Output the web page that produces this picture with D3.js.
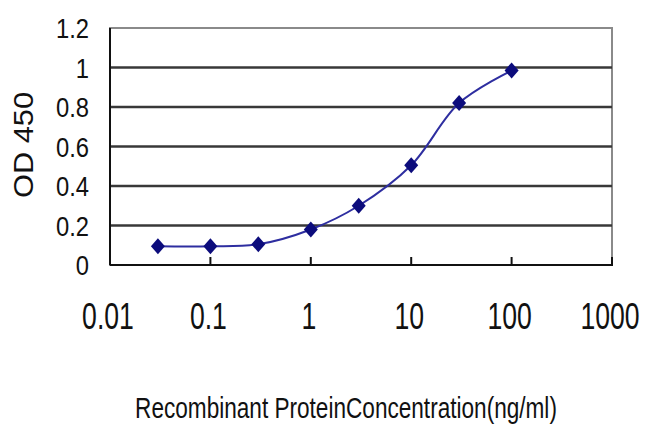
<!DOCTYPE html>
<html lang="en">
<head>
    <meta charset="UTF-8">
    <title>OD 450 vs Recombinant Protein Concentration</title>
    <script src="https://d3js.org/d3.v7.min.js"></script>
    <style>
        body, html {
            margin: 0;
            padding: 0;
            background: #fff;
            overflow: hidden;
        }
        text {
            font-family: "Liberation Sans", Arial, sans-serif;
            fill: #111;
        }
    </style>
</head>
<body>
    <svg id="chart" width="650" height="433"></svg>
    <script>
        // data
        const concentration = [0.03, 0.1, 0.3, 1, 3, 10, 30, 100];
        const od450 = [0.095, 0.095, 0.105, 0.18, 0.30, 0.505, 0.82, 0.985];
        const xTicks = [0.01, 0.1, 1, 10, 100, 1000];
        const xTickLabels = ["0.01", "0.1", "1", "10", "100", "1000"];
        const yTicks = [0, 0.2, 0.4, 0.6, 0.8, 1, 1.2];
        const yTickLabels = ["0", "0.2", "0.4", "0.6", "0.8", "1", "1.2"];

        const svg = d3.select("#chart");
        const plotLeft = 110, plotRight = 612, plotTop = 28, plotBottom = 265;

        const x = d3.scaleLog().domain([0.01, 1000]).range([plotLeft, plotRight]);
        const y = d3.scaleLinear().domain([0, 1.2]).range([plotBottom, plotTop]);

        // frame (top / right in grey)
        svg.append("rect")
            .attr("x", plotLeft).attr("y", plotTop)
            .attr("width", plotRight - plotLeft).attr("height", plotBottom - plotTop)
            .attr("fill", "#fff")
            .attr("stroke", "#8a8a8a")
            .attr("stroke-width", 2);

        // horizontal gridlines
        svg.append("g")
            .selectAll("line")
            .data(yTicks.filter(d => d > 0 && d < 1.2))
            .join("line")
            .attr("x1", plotLeft).attr("x2", plotRight)
            .attr("y1", d => y(d)).attr("y2", d => y(d))
            .attr("stroke", "#383838")
            .attr("stroke-width", 2.5);

        // axis lines
        svg.append("line")
            .attr("x1", plotLeft).attr("x2", plotLeft)
            .attr("y1", plotTop).attr("y2", plotBottom)
            .attr("stroke", "#111").attr("stroke-width", 2);
        svg.append("line")
            .attr("x1", plotLeft).attr("x2", plotRight + 1)
            .attr("y1", plotBottom).attr("y2", plotBottom)
            .attr("stroke", "#111").attr("stroke-width", 2);

        // x ticks pointing inside
        svg.append("g")
            .selectAll("line")
            .data(xTicks)
            .join("line")
            .attr("x1", d => x(d)).attr("x2", d => x(d))
            .attr("y1", plotBottom - 8).attr("y2", plotBottom)
            .attr("stroke", "#111").attr("stroke-width", 2);

        // y tick labels (narrow, tall)
        svg.append("g")
            .selectAll("text")
            .data(yTicks)
            .join("text")
            .attr("transform", d => `translate(89,${y(d) + 10}) scale(0.85,1)`)
            .attr("text-anchor", "end")
            .style("font-size", "28px")
            .text((d, i) => yTickLabels[i]);

        // x tick labels
        svg.append("g")
            .selectAll("text")
            .data(xTicks)
            .join("text")
            .attr("transform", d => `translate(${x(d) - 2},329) scale(0.72,1)`)
            .attr("text-anchor", "middle")
            .style("font-size", "37px")
            .text((d, i) => xTickLabels[i]);

        // axis titles
        svg.append("text")
            .attr("transform", "translate(33,145) rotate(-90)")
            .attr("text-anchor", "middle")
            .attr("textLength", 106)
            .attr("lengthAdjust", "spacingAndGlyphs")
            .style("font-size", "28px")
            .text("OD 450");

        // x title squeezed to the width seen in the picture
        const xTitle = svg.append("text")
            .attr("text-anchor", "middle")
            .style("font-size", "29px")
            .text("Recombinant ProteinConcentration(ng/ml)");
        const natural = xTitle.node().getComputedTextLength();
        xTitle.attr("transform", `translate(346,418) scale(${422 / natural},1)`);

        // smoothed series line
        const pts = concentration.map((c, i) => [x(c), y(od450[i])]);
        svg.append("path")
            .attr("d", d3.line().curve(d3.curveCatmullRom.alpha(0.5))(pts))
            .attr("fill", "none")
            .attr("stroke", "#2e2ea0")
            .attr("stroke-width", 2);

        // diamond markers
        svg.append("g")
            .selectAll("path")
            .data(pts)
            .join("path")
            .attr("d", d => `M${d[0]},${d[1] - 8}L${d[0] + 7},${d[1]}L${d[0]},${d[1] + 8}L${d[0] - 7},${d[1]}Z`)
            .attr("fill", "#0c0c7c");
    </script>
</body>
</html>
